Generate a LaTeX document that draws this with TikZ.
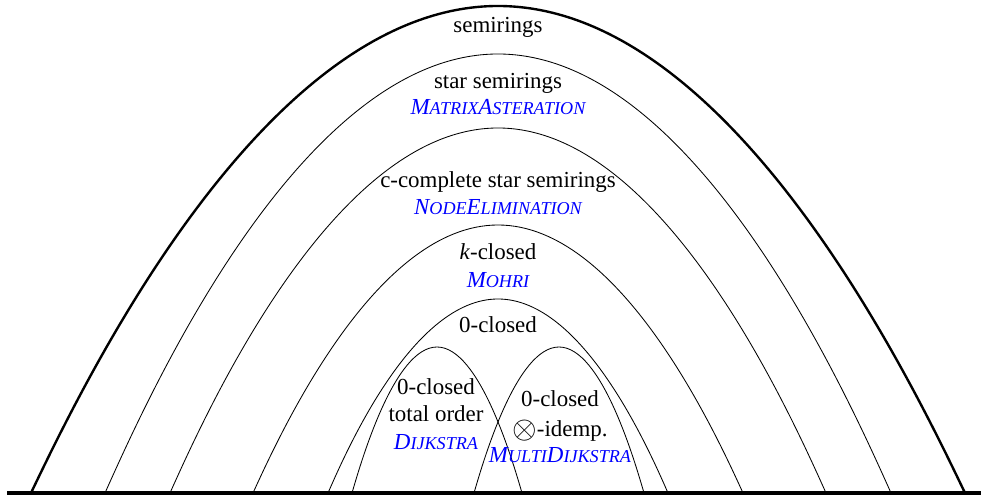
\documentclass[tikz,border=0pt]{standalone}
\usepackage{fontspec}
\setmainfont{Liberation Serif}
\newcommand{\smallcap}[1]{{\fontsize{12.9}{15}\selectfont #1}}

\begin{document}
\begin{tikzpicture}[x=0.025cm,y=0.025cm,
		arch/.style={line width=0.6pt},
		outer arch/.style={line width=1.7pt},
		ground/.style={line width=2.3pt},
		label/.style={anchor=base,inner sep=0pt,font=\fontsize{16.3}{19.5}\selectfont},
		algo/.style={label,text=blue,font=\fontsize{16.3}{19.5}\selectfont\itshape}]
	\useasboundingbox (0,0) rectangle (981,497);
	\coordinate (gl) at (7,4);
	\coordinate (gr) at (981,4);
	\draw[ground] (gl) -- (gr);
	\draw[outer arch] (31,4) parabola bend (498,491) (965,4);
	\draw[arch] (105,4) parabola bend (498,443) (891,4);
	\draw[arch] (170,4) parabola bend (498,369) (826,4);
	\draw[arch] (253,4) parabola bend (498,272) (743,4);
	\draw[arch] (328,4) parabola bend (498,198) (668,4);
	\draw[arch] (352,4) parabola bend (437,150) (522,4);
	\draw[arch] (474,4) parabola bend (559,150) (644,4);
	\node[label] (semi) at (498,464) {semirings};
	\node[label] (star) at (498,408) {star semirings};
	\node[algo] (matast) at (498,382) {M\smallcap{ATRIX}A\smallcap{STERATION}};
	\node[label] (ccomp) at (498,309) {c-complete star semirings};
	\node[algo] (nodeel) at (498,282) {N\smallcap{ODE}E\smallcap{LIMINATION}};
	\node[label] (kclosed) at (498,237) {\textit{k}-closed};
	\node[algo] (mohri) at (498,209) {M\smallcap{OHRI}};
	\node[label] (zclosed) at (498,164) {0-closed};
	\node[label] (tozero) at (436,102) {0-closed};
	\node[label] (toorder) at (436,75) {total order};
	\node[algo] (dijk) at (436,47) {D\smallcap{IJKSTRA}};
	\node[label] (idzero) at (560,90) {0-closed};
	\node[label] (idemp) at (560,60) {\raisebox{-1pt}{\scalebox{1.3}{$\otimes$}}-idemp.};
	\node[algo] (mdijk) at (560,34) {M\smallcap{ULTI}D\smallcap{IJKSTRA}};
\end{tikzpicture}
\end{document}
